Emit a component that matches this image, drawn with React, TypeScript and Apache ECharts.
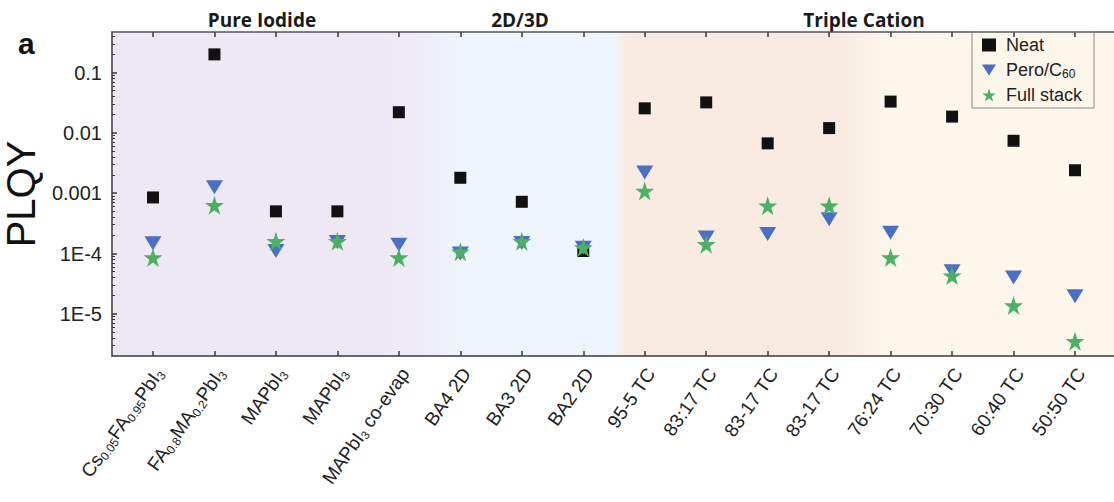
import React, { useEffect, useRef } from 'react';
import * as echarts from 'echarts';

// Sample names along the x axis ({s|..} marks a subscript)
const categories = [
  'Cs{s|0.05}FA{s|0.95}PbI{s|3}',
  'FA{s|0.8}MA{s|0.2}PbI{s|3}',
  'MAPbI{s|3}',
  'MAPbI{s|3}',
  'MAPbI{s|3} co-evap',
  'BA4 2D',
  'BA3 2D',
  'BA2 2D',
  '95-5 TC',
  '83:17 TC',
  '83-17 TC',
  '83-17 TC',
  '76:24 TC',
  '70:30 TC',
  '60:40 TC',
  '50:50 TC',
];

// PLQY values per sample
const neat = [8.5e-4, 0.2, 5.0e-4, 5.0e-4, 0.022, 1.8e-3, 7.2e-4, 1.1e-4, 0.0255, 0.032, 0.0067, 0.012, 0.033, 0.0186, 0.0074, 0.0024];
const peroC60 = [1.48e-4, 1.26e-3, 1.1e-4, 1.55e-4, 1.4e-4, 1.0e-4, 1.5e-4, 1.25e-4, 2.2e-3, 1.84e-4, 2.1e-4, 3.7e-4, 2.2e-4, 5.1e-5, 4.0e-5, 1.95e-5];
const fullStack = [8.6e-5, 6.3e-4, 1.6e-4, 1.6e-4, 8.6e-5, 1.07e-4, 1.6e-4, 1.26e-4, 1.09e-3, 1.42e-4, 6.2e-4, 6.2e-4, 8.6e-5, 4.3e-5, 1.38e-5, 3.5e-6];

const seriesNames = ['Neat', 'Pero/C60', 'Full stack'];
const groupTitles = ['Pure Iodide', '2D/3D', 'Triple Cation'];

const yTickValues = [1e-5, 1e-4, 1e-3, 1e-2, 1e-1];
const yTickLabels = ['1E-5', '1E-4', '0.001', '0.01', '0.1'];
const yMin = 2e-6;
const yMax = 0.47;

const STAR = 'path://M50,2 L61.2,36.6 L97.6,36.6 L68.2,58 L79.4,92.6 L50,71.2 L20.6,92.6 L31.8,58 L2.4,36.6 L38.8,36.6 Z';
const DOWN_TRIANGLE = 'path://M0,0 L20,0 L10,16 Z';

const FONT = '"Liberation Sans", Arial, Helvetica, sans-serif';
const LABEL_SHIFT = 0.1;

export default function App() {
  const ref = useRef<HTMLDivElement>(null);

  useEffect(() => {
    document.body.style.margin = '0';
    const chart = echarts.init(ref.current!, null, { renderer: 'svg' });

    const xs = categories.map((_, i) => i + 1);
    const xMin = 1 / 3;
    const xMax = categories.length + 2 / 3;

    const minorTicks: number[] = [];
    for (let k = -6; k <= -1; k++) {
      for (let m = 2; m <= 9; m++) {
        const v = m * Math.pow(10, k);
        if (v > yMin && v < yMax) minorTicks.push(v);
      }
    }

    const subRich = {
      s: { fontSize: 12, lineHeight: 12, verticalAlign: 'bottom', fontFamily: FONT, color: '#222' },
    };

    const axisLineStyle = { color: '#3a3a3a', width: 1.5 };

    const option: any = {
      animation: false,
      textStyle: { fontFamily: FONT },
      grid: {
        left: 112,
        top: 32,
        right: -2,
        bottom: 146,
        outerBoundsMode: 'none',
        containLabel: false,
        show: true,
        borderWidth: 0,
        backgroundColor: new echarts.graphic.LinearGradient(0, 0, 1, 0, [
          { offset: 0, color: '#eee8f4' },
          { offset: 0.27, color: '#eee8f4' },
          { offset: 0.315, color: '#eeedf8' },
          { offset: 0.35, color: '#eef5fd' },
          { offset: 0.499, color: '#eef5fd' },
          { offset: 0.512, color: '#f9ebe2' },
          { offset: 0.728, color: '#f9ebe2' },
          { offset: 0.77, color: '#fdf6eb' },
          { offset: 1, color: '#fdf6eb' },
        ]),
      },
      legend: {
        left: 972,
        top: 32,
        orient: 'vertical',
        borderColor: '#8a8a8a',
        borderWidth: 1,
        padding: [3, 12, 3, 10],
        itemGap: 5,
        itemWidth: 14,
        itemHeight: 13,
        textStyle: {
          fontSize: 18,
          lineHeight: 20,
          color: '#222',
          fontFamily: FONT,
          padding: [0, 0, 0, 5],
          rich: subRich,
        },
        formatter: (name: string) => (name === 'Pero/C60' ? 'Pero/C{s|60}' : name),
        data: [
          { name: 'Neat', icon: 'rect' },
          { name: 'Pero/C60', icon: DOWN_TRIANGLE },
          { name: 'Full stack', icon: STAR },
        ],
      },
      xAxis: [
        {
          type: 'value',
          position: 'bottom',
          min: xMin,
          max: xMax,
          splitLine: { show: false },
          axisLine: { show: true, lineStyle: axisLineStyle },
          axisTick: { show: true, inside: true, length: 5, customValues: xs, lineStyle: axisLineStyle },
          axisLabel: {
            customValues: xs.map((x) => x + LABEL_SHIFT),
            rotate: 55,
            margin: 14,
            fontSize: 19,
            lineHeight: 22,
            color: '#222',
            fontFamily: FONT,
            rich: subRich,
            formatter: (v: number) => categories[Math.round(v - LABEL_SHIFT) - 1] ?? '',
          },
        },
        {
          type: 'value',
          position: 'top',
          min: xMin,
          max: xMax,
          splitLine: { show: false },
          axisLine: { show: true, lineStyle: { color: '#555', width: 1.5 } },
          axisTick: { show: true, inside: true, length: 5, customValues: xs, lineStyle: axisLineStyle },
          axisLabel: { show: false },
        },
      ],
      yAxis: [
        {
          type: 'log',
          min: yMin,
          max: yMax,
          name: 'PLQY',
          nameLocation: 'middle',
          nameGap: 58,
          nameTextStyle: { fontSize: 40, color: '#111', fontFamily: FONT },
          splitLine: { show: false },
          axisLine: { show: true, lineStyle: axisLineStyle },
          axisTick: { show: true, inside: true, length: 5, customValues: yTickValues, lineStyle: axisLineStyle },
          axisLabel: {
            customValues: yTickValues,
            margin: 10,
            fontSize: 20,
            color: '#222',
            fontFamily: FONT,
            formatter: (v: number) => {
              const idx = yTickValues.findIndex((t) => Math.abs(Math.log10(t) - Math.log10(v)) < 1e-6);
              return idx >= 0 ? yTickLabels[idx] : '';
            },
          },
        },
        {
          type: 'log',
          min: yMin,
          max: yMax,
          position: 'left',
          splitLine: { show: false },
          axisLine: { show: false },
          axisTick: { show: true, inside: true, length: 3, customValues: minorTicks, lineStyle: { color: '#3a3a3a', width: 1 } },
          axisLabel: { show: false },
        },
      ],
      graphic: [
        {
          type: 'text',
          left: 18,
          top: 28,
          style: { text: 'a', font: `bold 30px ${FONT}`, fill: '#111' },
        },
        {
          type: 'text',
          x: 262,
          y: 20,
          style: { text: groupTitles[0], font: 'bold 19px "Open Sans", sans-serif', fill: '#1a1a1a', textAlign: 'center', textVerticalAlign: 'middle' },
        },
        {
          type: 'text',
          x: 520,
          y: 20,
          style: { text: groupTitles[1], font: 'bold 19px "Open Sans", sans-serif', fill: '#1a1a1a', textAlign: 'center', textVerticalAlign: 'middle' },
        },
        {
          type: 'text',
          x: 864,
          y: 20,
          style: { text: groupTitles[2], font: 'bold 19px "Open Sans", sans-serif', fill: '#1a1a1a', textAlign: 'center', textVerticalAlign: 'middle' },
        },
      ],
      series: [
        {
          name: seriesNames[0],
          type: 'scatter',
          symbol: 'rect',
          symbolSize: 12,
          itemStyle: { color: '#111111', opacity: 1 },
          z: 2,
          data: xs.map((x, i) => [x, neat[i]]),
        },
        {
          name: seriesNames[1],
          type: 'scatter',
          symbol: DOWN_TRIANGLE,
          symbolSize: [17, 14],
          itemStyle: { color: '#4a6fc3', opacity: 1 },
          z: 3,
          data: xs.map((x, i) => [x, peroC60[i]]),
        },
        {
          name: seriesNames[2],
          type: 'scatter',
          symbol: STAR,
          symbolSize: 19,
          itemStyle: { color: '#4cb063', opacity: 1 },
          z: 4,
          data: xs.map((x, i) => [x, fullStack[i]]),
        },
      ],
    };

    chart.setOption(option);
    return () => chart.dispose();
  }, []);

  return <div ref={ref} style={{ width: 1114, height: 502 }} />;
}
